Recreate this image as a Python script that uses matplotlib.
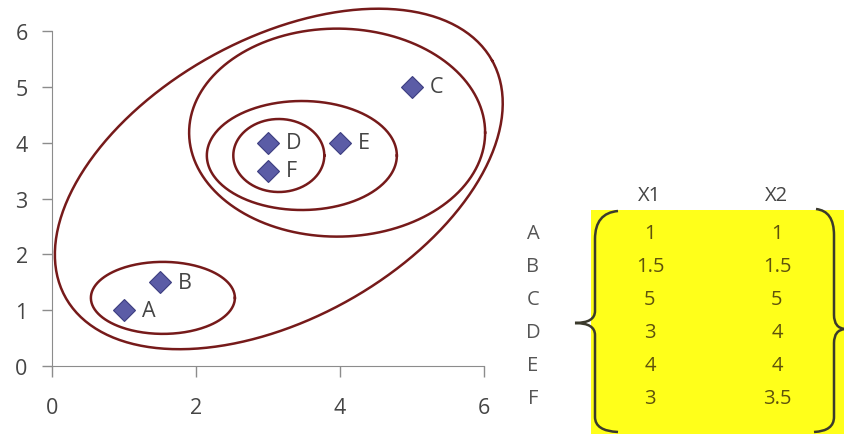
import numpy as np
import matplotlib
matplotlib.use("Agg")
import matplotlib.pyplot as plt
from matplotlib.path import Path
from matplotlib.patches import PathPatch, Rectangle

# points (same data for the scatter and for the table)
names = ["A", "B", "C", "D", "E", "F"]
x1 = [1, 1.5, 5, 3, 4, 3]
x2 = [1, 1.5, 5, 4, 4, 3.5]

plt.rcParams['font.family'] = ['Open Sans', 'DejaVu Sans']
grey = '#454545'

W, H = 845, 435
fig = plt.figure(figsize=(W / 100, H / 100), dpi=100)

# main scatter axes, placed in pixels
left, right, top, bottom = 52, 484, 32, 367
ax = fig.add_axes([left / W, (H - bottom) / H, (right - left) / W, (bottom - top) / H])
ax.set_xlim(0, 6)
ax.set_ylim(0, 6)
px_x = (right - left) / 6.0   # pixels per x unit
px_y = (bottom - top) / 6.0   # pixels per y unit

ax.plot(x1, x2, linestyle='none', marker='D', markersize=11.5,
        markerfacecolor='#5b5ca6', markeredgecolor='#3d3e80', markeredgewidth=0.8, zorder=3)
for n, a, b in zip(names, x1, x2):
    ax.annotate(n, (a, b), xytext=(13, 0), textcoords='offset points',
                va='center', ha='left', fontsize=15.5, color=grey)


# cluster outlines: centre in data units, semi axes in pixels, tilt in degrees
def outline(cx, cy, a, b, ang):
    t = np.linspace(0, 2 * np.pi, 300)
    th = np.radians(ang)
    dx = a * np.cos(t) * np.cos(th) - b * np.sin(t) * np.sin(th)
    dy = a * np.cos(t) * np.sin(th) + b * np.sin(t) * np.cos(th)
    ax.plot(cx + dx / px_x, cy + dy / px_y, color='#761a1a', lw=1.8, clip_on=False, zorder=2)


outline(1.54, 1.22, 72, 36, 0)
outline(3.15, 3.77, 45.5, 36.5, 0)
outline(3.47, 3.77, 95, 54.5, 0)
outline(3.96, 4.18, 148, 104, 0)
outline(3.15, 3.35, 244, 140, 29)

ax.set_xticks([0, 2, 4, 6])
ax.set_yticks(range(7))
for s in ['top', 'right']:
    ax.spines[s].set_visible(False)
for s in ['left', 'bottom']:
    ax.spines[s].set_color('#8c8c8c')
ax.tick_params(axis='x', length=8, width=1, color='#8c8c8c', labelsize=15.5, labelcolor=grey, pad=14)
ax.tick_params(axis='y', length=7.5, width=1, color='#8c8c8c', labelsize=15.5, labelcolor=grey, pad=10)

# table on the right, in pixel coordinates
tb = fig.add_axes([0, 0, 1, 1], zorder=-1)
tb.set_xlim(0, W)
tb.set_ylim(H, 0)
tb.axis('off')
tb.add_patch(Rectangle((591, 211), 254, 230, facecolor='#ffff1a', edgecolor='none'))

col_x = [650, 777]
row_y = np.linspace(234, 399, len(names))
tb.text(col_x[0], 196, "X1", ha='center', va='center', fontsize=14.5, color=grey)
tb.text(col_x[1], 196, "X2", ha='center', va='center', fontsize=14.5, color=grey)
for n, a, b, y in zip(names, x1, x2, row_y):
    tb.text(533, y, n, ha='center', va='center', fontsize=14.5, color='#555555')
    tb.text(col_x[0], y, f"{a:g}", ha='center', va='center', fontsize=14.5, color='#5e520c')
    tb.text(col_x[1], y, f"{b:g}", ha='center', va='center', fontsize=14.5, color='#5e520c')


def brace(pts):
    verts = [pts[0]]
    codes = [Path.MOVETO]
    for i in range(1, len(pts), 2):
        verts += [pts[i], pts[i + 1]]
        codes += [Path.CURVE3, Path.CURVE3]
    tb.add_patch(PathPatch(Path(verts, codes), facecolor='none', edgecolor='#3b3a2c', lw=1.8))


brace([(618, 212), (595, 214), (595, 240), (595, 280), (595, 312),
       (595, 324), (575, 324), (595, 324), (595, 336),
       (595, 380), (595, 418), (595, 432), (618, 433)])
brace([(816, 210), (834, 212), (834, 236), (834, 280), (834, 316),
       (834, 329), (845, 330), (834, 331), (834, 344),
       (834, 390), (834, 418), (834, 432), (814, 433)])

fig.savefig("out.png", dpi=100)
